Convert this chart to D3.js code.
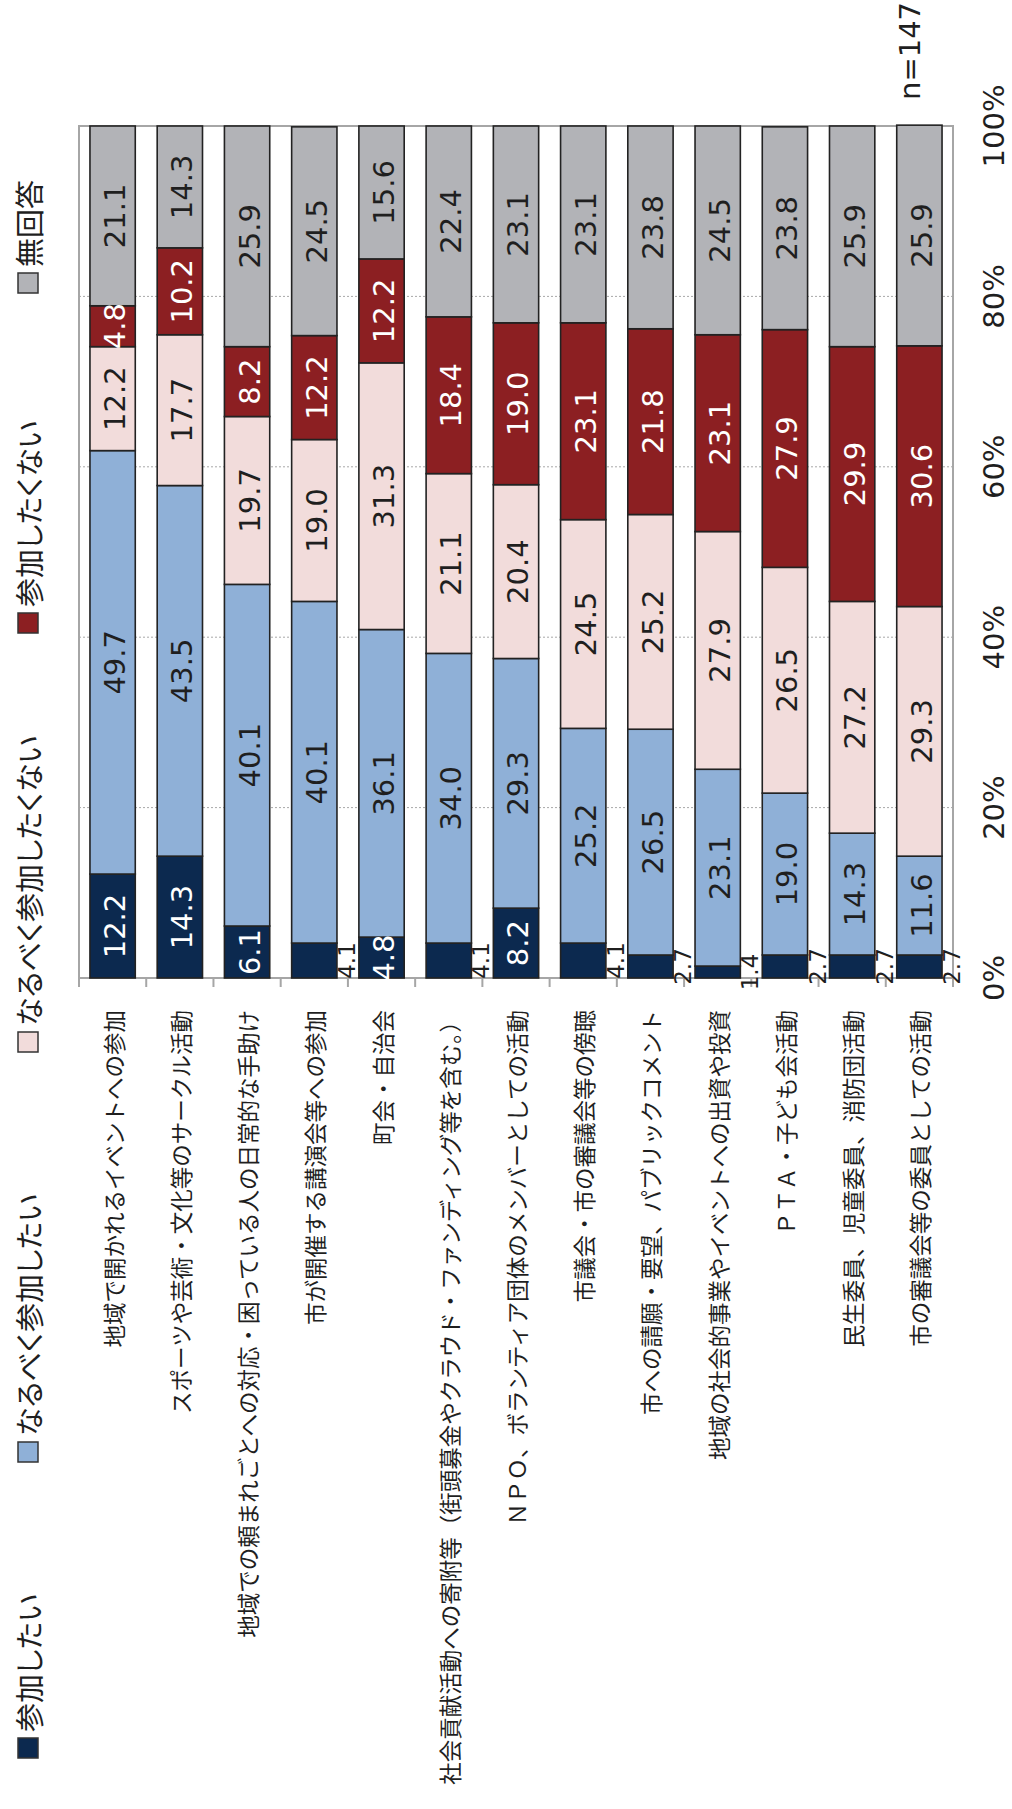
<!DOCTYPE html>
<html lang="ja">
<head>
<meta charset="utf-8">
<script src="https://cdn.jsdelivr.net/npm/d3@7"></script>
<style>
  html, body { margin: 0; padding: 0; background: #ffffff; }
  svg { display: block; }
  .jp { font-family: "Noto Sans CJK JP", "Noto Sans", sans-serif; }
  .num { font-family: "DejaVu Sans", Verdana, sans-serif; }
</style>
</head>
<body>
<svg id="chart" width="1012" height="1809"></svg>
<script>
// 参加意向（n=147）: 項目ごとの回答割合（%）
const categories = [
  "地域で開かれるイベントへの参加",
  "スポーツや芸術・文化等のサークル活動",
  "地域での頼まれごとへの対応・困っている人の日常的な手助け",
  "市が開催する講演会等への参加",
  "町会・自治会",
  "社会貢献活動への寄附等（街頭募金やクラウド・ファンディング等を含む。）",
  "ＮＰＯ、ボランティア団体のメンバーとしての活動",
  "市議会・市の審議会等の傍聴",
  "市への請願・要望、パブリックコメント",
  "地域の社会的事業やイベントへの出資や投資",
  "ＰＴＡ・子ども会活動",
  "民生委員、児童委員、消防団活動",
  "市の審議会等の委員としての活動"
];
const seriesNames = ["参加したい", "なるべく参加したい", "なるべく参加したくない", "参加したくない", "無回答"];
const want       = [12.2, 14.3,  6.1,  4.1,  4.8,  4.1,  8.2,  4.1,  2.7,  1.4,  2.7,  2.7,  2.7];
const ratherWant = [49.7, 43.5, 40.1, 40.1, 36.1, 34.0, 29.3, 25.2, 26.5, 23.1, 19.0, 14.3, 11.6];
const ratherNot  = [12.2, 17.7, 19.7, 19.0, 31.3, 21.1, 20.4, 24.5, 25.2, 27.9, 26.5, 27.2, 29.3];
const notWant    = [ 4.8, 10.2,  8.2, 12.2, 12.2, 18.4, 19.0, 23.1, 21.8, 23.1, 27.9, 29.9, 30.6];
const noAnswer   = [21.1, 14.3, 25.9, 24.5, 15.6, 22.4, 23.1, 23.1, 23.8, 24.5, 23.8, 25.9, 25.9];
const tickValues = [0, 20, 40, 60, 80, 100];
const tickLabels = ["0%", "20%", "40%", "60%", "80%", "100%"];
const sampleSize = "n=147";

const seriesValues = [want, ratherWant, ratherNot, notWant, noAnswer];
const colors = ["#0c294f", "#8fb0d7", "#f2dcdb", "#8c1f22", "#b2b3b7"];
const labelColors = ["#ffffff", "#1f1f1f", "#1f1f1f", "#ffffff", "#1f1f1f"];

// rows for d3.stack
const table = categories.map((c, i) => {
  const row = { category: c };
  seriesNames.forEach((s, k) => { row[s] = seriesValues[k][i]; });
  return row;
});
const stacked = d3.stack().keys(seriesNames)(table);

// the chart is laid out turned a quarter turn: values run upward, categories left to right
const plot = { left: 79, right: 953, top: 126, bottom: 978 };

const x = d3.scaleBand()
  .domain(categories)
  .range([plot.left, plot.right])
  .paddingInner(0.326)
  .paddingOuter(0.163);

const y = d3.scaleLinear().domain([0, 100]).range([plot.bottom, plot.top]);

const svg = d3.select("#chart");
svg.append("rect").attr("width", 1012).attr("height", 1809).attr("fill", "#ffffff");

// dashed gridlines
svg.append("g")
  .selectAll("line")
  .data(tickValues.filter(v => v > 0 && v < 100))
  .join("line")
  .attr("x1", plot.left).attr("x2", plot.right)
  .attr("y1", d => y(d)).attr("y2", d => y(d))
  .attr("stroke", "#a8a8a8")
  .attr("stroke-width", 1)
  .attr("stroke-dasharray", "2,2");

// plot frame
svg.append("rect")
  .attr("x", plot.left).attr("y", plot.top)
  .attr("width", plot.right - plot.left).attr("height", plot.bottom - plot.top)
  .attr("fill", "none").attr("stroke", "#a6a6a6").attr("stroke-width", 2);

// category axis along the bottom, ticks between bands
const step = x.step();
const axisG = svg.append("g");
axisG.selectAll("line")
  .data(d3.range(categories.length + 1))
  .join("line")
  .attr("x1", i => plot.left + i * step).attr("x2", i => plot.left + i * step)
  .attr("y1", plot.bottom).attr("y2", plot.bottom + 9)
  .attr("stroke", "#a6a6a6").attr("stroke-width", 2);

// stacked bars
const layers = svg.append("g").selectAll("g")
  .data(stacked)
  .join("g")
  .attr("fill", (d, k) => colors[k]);

layers.selectAll("rect")
  .data(d => d)
  .join("rect")
  .attr("x", d => x(d.data.category))
  .attr("width", x.bandwidth())
  .attr("y", d => y(d[1]))
  .attr("height", d => y(d[0]) - y(d[1]))
  .attr("stroke", "#222222")
  .attr("stroke-width", 1.6);

// value labels
const labelG = svg.append("g").attr("class", "num");
stacked.forEach((layer, k) => {
  layer.forEach(d => {
    const v = d[1] - d[0];
    const mid = y((d[0] + d[1]) / 2);
    const small = v < 4.5;
    const bx = x(d.data.category);
    if (small) {
      labelG.append("text")
        .attr("transform", `translate(${bx + x.bandwidth() + 18},${mid}) rotate(-90)`)
        .attr("text-anchor", "middle")
        .attr("font-size", 23)
        .attr("fill", "#1f1f1f")
        .text(v.toFixed(1));
    } else {
      labelG.append("text")
        .attr("transform", `translate(${bx + x.bandwidth() / 2},${mid}) rotate(-90)`)
        .attr("text-anchor", "middle")
        .attr("dy", "0.43em")
        .attr("font-size", 29)
        .attr("fill", labelColors[k])
        .text(v.toFixed(1));
    }
  });
});

// value axis labels
svg.append("g").attr("class", "num")
  .selectAll("text")
  .data(tickValues)
  .join("text")
  .attr("transform", (d) => `translate(1004,${y(d)}) rotate(-90)`)
  .attr("text-anchor", "middle")
  .attr("font-size", 29)
  .attr("fill", "#1f1f1f")
  .text((d, i) => tickLabels[i]);

// category labels
svg.append("g").attr("class", "jp")
  .selectAll("text")
  .data(categories)
  .join("text")
  .attr("transform", d => `translate(${x(d) + x.bandwidth() / 2},1010) rotate(-90)`)
  .attr("text-anchor", "end")
  .attr("dominant-baseline", "central")
  .attr("font-size", 22.5)
  .attr("fill", "#1f1f1f")
  .text(d => d);

// sample size
svg.append("text").attr("class", "num")
  .attr("transform", "translate(920,100) rotate(-90)")
  .attr("text-anchor", "start")
  .attr("font-size", 29)
  .attr("fill", "#1f1f1f")
  .text(sampleSize);

// legend, running up the left edge
const legendSwatchBottom = [1758, 1462, 1052, 633, 293];
const legendG = svg.append("g");
seriesNames.forEach((name, k) => {
  const yb = legendSwatchBottom[k];
  legendG.append("rect")
    .attr("x", 18).attr("y", yb - 20)
    .attr("width", 20).attr("height", 20)
    .attr("fill", colors[k])
    .attr("stroke", "#333333").attr("stroke-width", 1.5);
  legendG.append("text")
    .attr("class", "jp")
    .attr("transform", `translate(28,${yb - 26}) rotate(-90)`)
    .attr("text-anchor", "start")
    .attr("dominant-baseline", "central")
    .attr("font-size", 29)
    .style("font-feature-settings", "'palt'")
    .attr("fill", "#1f1f1f")
    .text(name);
});
</script>
</body>
</html>
